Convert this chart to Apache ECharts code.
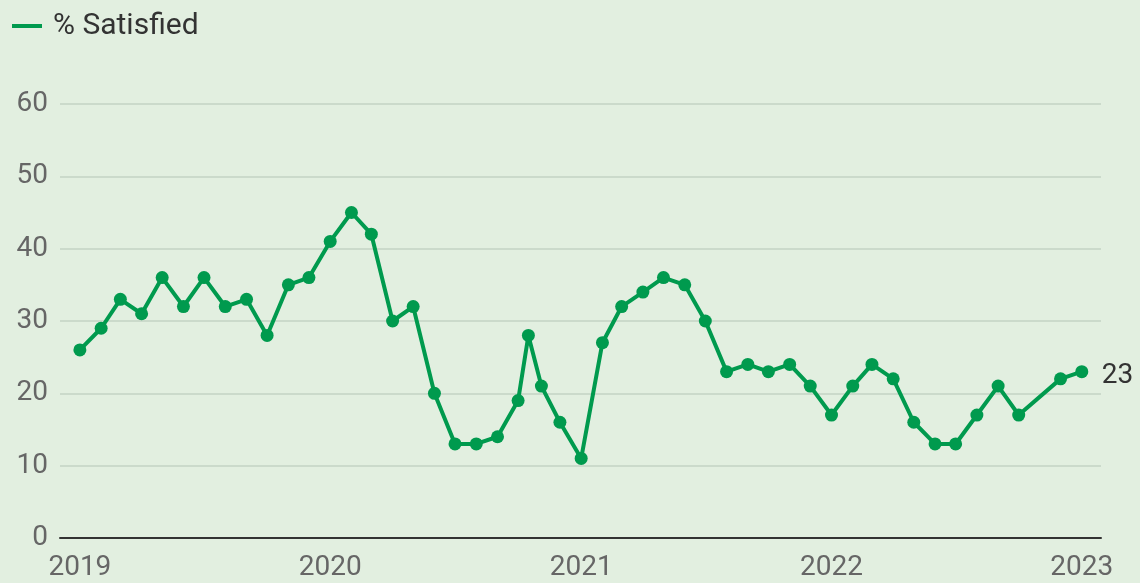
<!DOCTYPE html>
<html lang="en">
<head>
  <meta charset="UTF-8" />
  <title>% Satisfied</title>
  <style>
    html, body { margin: 0; padding: 0; background: #e2efe0 }
    #chart { width: 1140px; height: 583px }
  </style>
  <script src="https://cdn.jsdelivr.net/npm/echarts@6/dist/echarts.min.js"></script>
</head>
<body>
  <div id="chart"></div>
  <script>
    // survey dates and the share that answered "satisfied"
    const dates = [
      '2019-01-01', '2019-02-01', '2019-03-01', '2019-04-01', '2019-05-01', '2019-06-01',
      '2019-07-01', '2019-08-01', '2019-09-01', '2019-10-01', '2019-11-01', '2019-12-01',
      '2020-01-01', '2020-02-01', '2020-03-01', '2020-04-01', '2020-05-01', '2020-06-01',
      '2020-07-01', '2020-08-01', '2020-09-01', '2020-10-01', '2020-10-16', '2020-11-04',
      '2020-12-01', '2021-01-01', '2021-02-01', '2021-03-01', '2021-04-01', '2021-05-01',
      '2021-06-01', '2021-07-01', '2021-08-01', '2021-09-01', '2021-10-01', '2021-11-01',
      '2021-12-01', '2022-01-01', '2022-02-01', '2022-03-01', '2022-04-01', '2022-05-01',
      '2022-06-01', '2022-07-01', '2022-08-01', '2022-09-01', '2022-10-01', '2022-12-01',
      '2023-01-01'
    ];
    const satisfied = [
      26, 29, 33, 31, 36, 32,
      36, 32, 33, 28, 35, 36,
      41, 45, 42, 30, 32, 20,
      13, 13, 14, 19, 28, 21,
      16, 11, 27, 32, 34, 36,
      35, 30, 23, 24, 23, 24,
      21, 17, 21, 24, 22, 16,
      13, 13, 17, 21, 17, 22,
      23
    ];
    const seriesName = '% Satisfied';
    const yTicks = [0, 10, 20, 30, 40, 50, 60];

    const green = '#009a4e';
    const font = 'Roboto, "Noto Sans", sans-serif';

    const chart = echarts.init(document.getElementById('chart'));
    chart.setOption({
      backgroundColor: '#e2efe0',
      animation: false,
      textStyle: { fontFamily: font },
      legend: {
        left: 7,
        top: 6,
        icon: 'rect',
        itemWidth: 30,
        itemHeight: 4,
        textStyle: { fontSize: 30, color: '#333', fontFamily: font, padding: [0, 0, 0, 6] },
        data: [seriesName]
      },
      grid: { left: 60, right: 39, top: 104, bottom: 45, containLabel: false },
      xAxis: {
        type: 'time',
        min: '2018-12-03',
        max: '2023-01-29',
        splitNumber: 4,
        axisLine: { lineStyle: { color: '#333', width: 2 } },
        axisTick: { show: false },
        splitLine: { show: false },
        axisLabel: {
          color: '#666',
          fontSize: 28,
          margin: 16,
          hideOverlap: false,
          formatter: v => {
            const d = new Date(v);
            return (d.getMonth() === 0 && d.getDate() === 1) ? String(d.getFullYear()) : '';
          }
        }
      },
      yAxis: {
        type: 'value',
        min: yTicks[0],
        max: yTicks[yTicks.length - 1],
        interval: 10,
        axisLine: { show: false },
        axisTick: { show: false },
        splitLine: { lineStyle: { color: '#cbdacb', width: 2 } },
        axisLabel: { color: '#666', fontSize: 28, margin: 12 }
      },
      series: [{
        name: seriesName,
        type: 'line',
        data: dates.map((d, i) => [d, satisfied[i]]),
        symbol: 'circle',
        symbolSize: 13,
        color: green,
        lineStyle: { width: 4, color: green },
        itemStyle: { color: green },
        endLabel: {
          show: true,
          distance: 20,
          offset: [0, 4],
          fontSize: 28,
          color: '#333',
          formatter: p => String(p.value[1])
        }
      }]
    });
  </script>
</body>
</html>
